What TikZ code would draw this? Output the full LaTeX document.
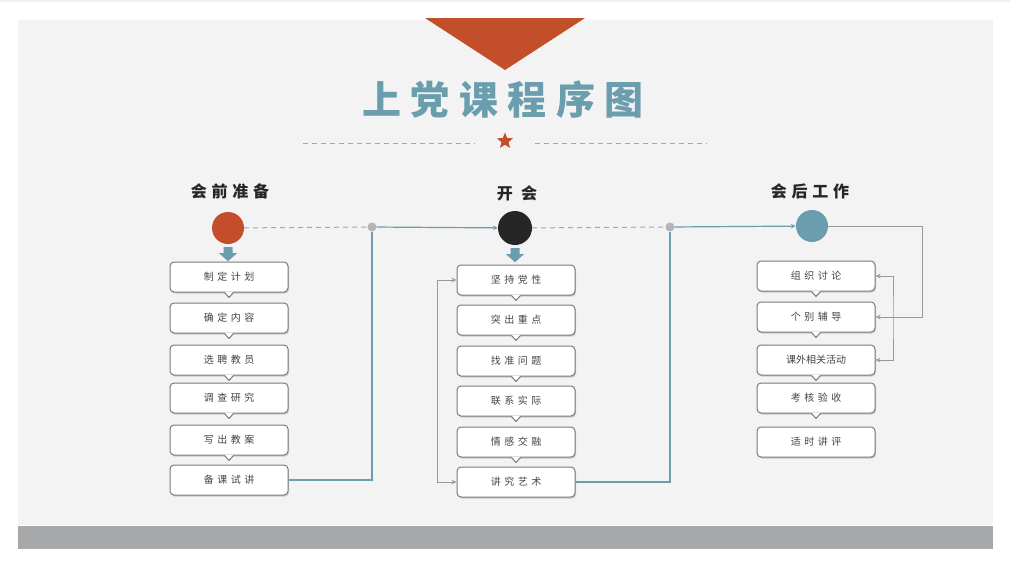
\documentclass[tikz,border=0pt]{standalone}
\usepackage{fontspec}
\usetikzlibrary{arrows.meta,shapes.geometric,shadows}
\newfontfamily\cjk{Noto Sans CJK SC}
\newfontfamily\boxfont[LetterSpace=35]{Noto Sans CJK SC}
\newfontfamily\headfont[LetterSpace=30]{Noto Sans CJK SC}
\newfontfamily\titlefont[LetterSpace=24]{Noto Sans CJK SC}
\definecolor{rust}{HTML}{C24E2A}
\definecolor{steel}{HTML}{6A9DAD}
\definecolor{boxgray}{HTML}{7A7A7A}
\definecolor{txtgray}{HTML}{444444}
\definecolor{dotgray}{HTML}{B4B4B4}
\definecolor{paper}{HTML}{F3F3F3}
\definecolor{band}{HTML}{A6A8AA}
\tikzset{
  stepbox/.style={draw=boxgray, line width=1pt, rounded corners=4pt, fill=white,
    minimum width=118pt, minimum height=30pt, inner sep=0pt,
    font=\boxfont\fontsize{10}{12}\selectfont\color{txtgray},
    drop shadow={shadow xshift=1pt, shadow yshift=-1.5pt, opacity=0.35}},
  phase/.style={font=\headfont\fontsize{16}{18}\selectfont\bfseries\color{black!85}},
  stage/.style={circle, minimum size=32pt, inner sep=0pt},
  joint/.style={circle, fill=dotgray, minimum size=9pt, inner sep=0pt},
  dashline/.style={draw=gray!70, line width=1pt, dash pattern=on 5pt off 4pt},
  steelline/.style={draw=steel, line width=1.2pt},
  grayline/.style={draw=gray!80, line width=1pt},
}
\begin{document}
\begin{tikzpicture}[x=1pt, y=-1pt, >={Stealth[length=5pt,width=4.5pt]}]
\useasboundingbox (0,0) rectangle (1010,570);
\fill[white] (0,0) rectangle (1010,570);
\fill[gray!12] (0,0) rectangle (1010,1.5);
\fill[paper] (18,20) rectangle (993,525);
\fill[band] (18,526) rectangle (993,549);

% title
\fill[rust] (425,18) -- (585,18) -- (505,70) -- cycle;
\node[font=\titlefont\fontsize{39}{42}\selectfont\bfseries, text=steel] (title) at (503,100) {上党课程序图};
\draw[dashline] (303,143) -- (475,143);
\draw[dashline] (535,143) -- (707,143);
\node[star, star points=5, star point ratio=2.3, fill=rust, minimum size=17pt, inner sep=0pt] (deco) at (505,141) {};

% phases
\node[phase] (h1) at (230,191) {会前准备};
\node[phase] (h2) at (517,193) {开\ 会};
\node[phase] (h3) at (810,191) {会后工作};
\node[stage, fill=rust] (a0) at (228,228) {};
\node[stage, fill=black!85, minimum size=34pt] (b0) at (515,228) {};
\node[stage, fill=steel] (c0) at (812,226) {};
\node[joint] (j1) at (372,227) {};
\node[joint] (j2) at (670,227) {};

% down arrows
\foreach \s in {a0,b0}
  \fill[steel, shift={(\s.south)}] (-4.5,3) -- (4.5,3) -- (4.5,9) -- (9,9) -- (0,17) -- (-9,9) -- (-4.5,9) -- cycle;

% before the meeting
\node[stepbox] (a1) at (229,277) {制定计划};
\node[stepbox] (a2) at (229,318) {确定内容};
\node[stepbox] (a3) at (229,360) {选聘教员};
\node[stepbox] (a4) at (229,398) {调查研究};
\node[stepbox] (a5) at (229,440) {写出教案};
\node[stepbox] (a6) at (229,480) {备课试讲};

% meeting
\node[stepbox] (b1) at (516,280) {坚持党性};
\node[stepbox] (b2) at (516,320) {突出重点};
\node[stepbox] (b3) at (516,361) {找准问题};
\node[stepbox] (b4) at (516,401) {联系实际};
\node[stepbox] (b5) at (516,442) {情感交融};
\node[stepbox] (b6) at (516,482) {讲究艺术};

% after the meeting
\node[stepbox] (c1) at (816,276) {组织讨论};
\node[stepbox] (c2) at (816,317) {个别辅导};
\node[stepbox, font=\cjk\fontsize{10}{12}\selectfont\color{txtgray}] (c3) at (816,360) {课外相关活动};
\node[stepbox] (c4) at (816,398) {考核验收};
\node[stepbox] (c5) at (816,442) {适时讲评};

% pointers under the boxes
\foreach \n in {a1,a2,a3,a4,a5,b1,b2,b3,b4,b5,c1,c2,c3,c4} {
  \fill[white, shift={(\n.south)}] (-4.5,-0.8) -- (0,5) -- (4.5,-0.8) -- cycle;
  \draw[boxgray, line width=1pt, line join=round, shift={(\n.south)}] (-4.5,0) -- (0,5) -- (4.5,0);
}

% connectors
\draw[dashline] (a0) -- (j1);
\draw[steelline] (a6.east) -| (j1);
\draw[steelline, ->] (j1) -- (b0);
\draw[dashline] (b0) -- (j2);
\draw[steelline] (b6.east) -| (j2);
\draw[steelline, ->] (j2) -- (c0);
\draw[grayline, <->] (b1.west) -- (437,280) |- (b6.west);
\draw[grayline, ->] (c0.east) -- (922,226) |- (c2.east);
\draw[grayline, <->] (c1.east) -| (893,317) |- (c3.east);
\end{tikzpicture}
\end{document}
